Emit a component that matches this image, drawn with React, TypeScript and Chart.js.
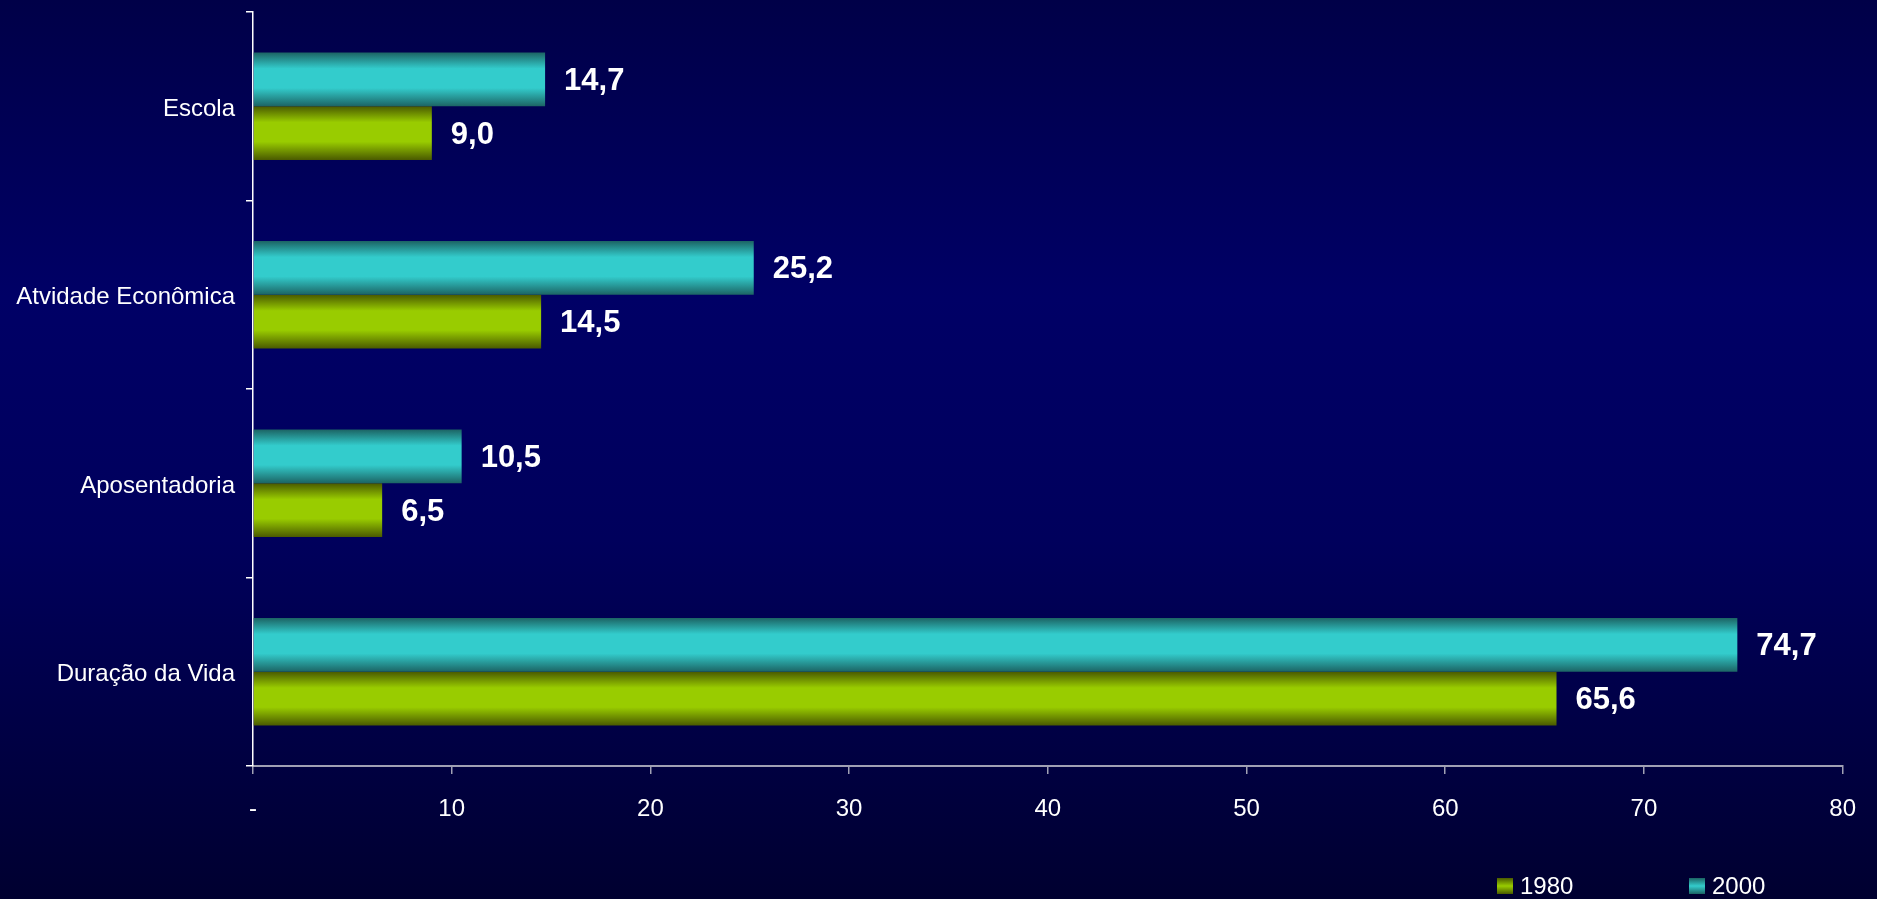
import React, { useEffect, useRef } from "react";
import { Chart, registerables } from "chart.js";

Chart.register(...registerables);

const categories = ["Escola", "Atvidade Econômica", "Aposentadoria", "Duração da Vida"];
const series2000 = [14.7, 25.2, 10.5, 74.7];
const series1980 = [9.0, 14.5, 6.5, 65.6];
const seriesNames = ["2000", "1980"];
const xTicks = [0, 10, 20, 30, 40, 50, 60, 70, 80];

const CAT_PCT = 0.57;

const palettes: Record<string, { edge: string; mid: string }> = {
  "2000": { edge: "#1c6464", mid: "#33cccc" },
  "1980": { edge: "#4a5a00", mid: "#99cc00" },
};

function barGradient(ctx: any) {
  const chart = ctx.chart;
  const ds = chart.data.datasets[ctx.datasetIndex];
  const pal = palettes[ds.label];
  const y = chart.scales?.y;
  if (!y || ctx.dataIndex === undefined) return pal.mid;
  const n = chart.data.labels.length;
  const band = (y.bottom - y.top) / n;
  const size = band * CAT_PCT;
  const per = size / chart.data.datasets.length;
  const c = y.getPixelForValue(ctx.dataIndex);
  const top = c - size / 2 + per * ctx.datasetIndex;
  if (!isFinite(top) || !isFinite(per) || per <= 0) return pal.mid;
  const g = chart.ctx.createLinearGradient(0, top, 0, top + per);
  g.addColorStop(0, pal.edge);
  g.addColorStop(0.3, pal.mid);
  g.addColorStop(0.66, pal.mid);
  g.addColorStop(1, pal.edge);
  return g;
}

const bgPlugin = {
  id: "bg",
  beforeDraw(chart: any) {
    const { ctx, width, height } = chart;
    const g = ctx.createLinearGradient(0, 0, 0, height);
    g.addColorStop(0, "#000048");
    g.addColorStop(0.33, "#000066");
    g.addColorStop(0.6, "#00005c");
    g.addColorStop(1, "#000030");
    ctx.save();
    ctx.fillStyle = g;
    ctx.fillRect(0, 0, width, height);
    ctx.restore();
  },
};

const labelPlugin = {
  id: "valueLabels",
  afterDatasetsDraw(chart: any) {
    const ctx = chart.ctx;
    ctx.save();
    ctx.font = "bold 31px 'Liberation Sans', Arial, sans-serif";
    ctx.fillStyle = "#ffffff";
    ctx.textBaseline = "middle";
    ctx.textAlign = "left";
    chart.data.datasets.forEach((ds: any, di: number) => {
      const meta = chart.getDatasetMeta(di);
      meta.data.forEach((el: any, i: number) => {
        const v = ds.data[i];
        ctx.fillText(v.toFixed(1).replace(".", ","), el.x + 19, el.y + 2);
      });
    });
    ctx.restore();
  },
};

const legendPlugin = {
  id: "customLegend",
  afterDraw(chart: any) {
    const ctx = chart.ctx;
    const items = [
      { name: "1980", x: 1497 },
      { name: "2000", x: 1689 },
    ];
    const yc = 886;
    ctx.save();
    ctx.font = "24px 'Liberation Sans', Arial, sans-serif";
    ctx.textBaseline = "middle";
    ctx.textAlign = "left";
    items.forEach((it) => {
      const pal = palettes[it.name];
      const s = 16;
      const g = ctx.createLinearGradient(0, yc - s / 2, 0, yc + s / 2);
      g.addColorStop(0, pal.edge);
      g.addColorStop(0.5, pal.mid);
      g.addColorStop(1, pal.edge);
      ctx.fillStyle = g;
      ctx.fillRect(it.x, yc - s / 2, s, s);
      ctx.fillStyle = "#ffffff";
      ctx.fillText(it.name, it.x + 23, yc + 1);
    });
    ctx.restore();
  },
};

export default function App() {
  const ref = useRef<HTMLCanvasElement>(null);
  useEffect(() => {
    document.body.style.margin = "0";
    const chart = new Chart(ref.current!, {
      type: "bar",
      data: {
        labels: categories,
        datasets: [
          { label: seriesNames[0], data: series2000, backgroundColor: barGradient as any },
          { label: seriesNames[1], data: series1980, backgroundColor: barGradient as any },
        ],
      },
      options: {
        indexAxis: "y",
        animation: false,
        responsive: false,
        maintainAspectRatio: false,
        layout: { padding: { top: 12, right: 34, bottom: 73, left: 0 } },
        datasets: { bar: { categoryPercentage: CAT_PCT, barPercentage: 1 } },
        plugins: { legend: { display: false }, tooltip: { enabled: false } },
        scales: {
          x: {
            min: 0,
            max: 80,
            afterBuildTicks: (s: any) => {
              s.ticks = xTicks.map((v) => ({ value: v }));
            },
            afterFit: (s: any) => {
              s.height = 60;
            },
            border: { display: true, color: "#a0a0b4", width: 2 },
            grid: {
              drawOnChartArea: false,
              drawTicks: true,
              tickLength: 8,
              color: "#a0a0b4",
              lineWidth: 1.5,
            },
            ticks: {
              color: "#ffffff",
              padding: 21,
              font: { family: "'Liberation Sans', Arial, sans-serif", size: 24 },
              callback: (v: any) => (v === 0 ? "-" : String(v)),
              maxRotation: 0,
            },
          },
          y: {
            afterFit: (s: any) => {
              s.width = 253;
              s.paddingTop = 0;
            },
            border: { display: true, color: "#ffffff", width: 1.5 },
            grid: {
              drawOnChartArea: false,
              drawTicks: true,
              tickLength: 7,
              color: "#ffffff",
              lineWidth: 1.5,
              offset: true,
            },
            ticks: {
              color: "#ffffff",
              padding: 11,
              labelOffset: 3,
              font: { family: "'Liberation Sans', Arial, sans-serif", size: 24 },
            },
          },
        },
      },
      plugins: [bgPlugin, labelPlugin, legendPlugin],
    });
    return () => chart.destroy();
  }, []);
  return <canvas ref={ref} width={1877} height={899} style={{ display: "block" }} />;
}
